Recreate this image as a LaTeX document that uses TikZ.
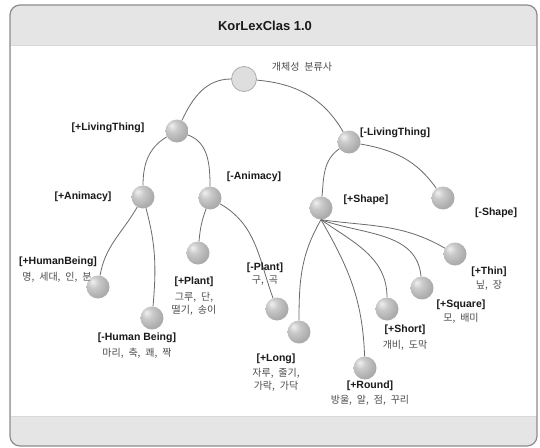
\documentclass[tikz,border=0pt]{standalone}
\usepackage{fontspec}
\setmainfont{Liberation Sans}
\newfontfamily\korfont[WordSpace=2.2]{Noto Sans CJK KR}
\usepackage{xcolor}
\usepackage{tikz}
\definecolor{bandbg}{HTML}{E5E5E5}
\definecolor{framegray}{HTML}{8C8C8C}
\definecolor{edgegray}{HTML}{6A6A6A}
\definecolor{textdark}{HTML}{1A1A1A}
\definecolor{textgray}{HTML}{4C4C4C}
\definecolor{rootfill}{HTML}{DEDEDE}
\pgfdeclareradialshading{greyball}{\pgfpoint{-12bp}{12bp}}{color(0bp)=(gray!12); color(12bp)=(gray!42); color(28bp)=(gray!64); color(45bp)=(gray!78); color(70bp)=(gray!88)}
\tikzset{
  classball/.style={circle,minimum size=23pt,inner sep=0pt,shading=greyball},
  rootball/.style={circle,minimum size=25pt,inner sep=0pt,fill=rootfill,draw=gray!65,line width=0.8pt},
  featlbl/.style={font=\bfseries\fontsize{10.5}{12}\selectfont,text=textdark,inner sep=1pt},
  wordlbl/.style={font=\korfont\fontsize{10}{13}\selectfont,text=textgray,inner sep=1pt,align=center},
  branch/.style={draw=edgegray,line width=0.8pt},
}

\begin{document}
\begin{tikzpicture}[x=1pt,y=1pt]
  \useasboundingbox (0,0) rectangle (540,-447);
  % frame with title and bottom bands
  \fill[bandbg,rounded corners=10pt] (10,-446) rectangle (537,-5);
  \fill[white] (10.5,-45) rectangle (536.5,-416);
  \draw[gray!30] (10.5,-45) -- (536.5,-45) (10.5,-416) -- (536.5,-416);
  \draw[framegray,line width=1.2pt,rounded corners=10pt] (10,-446) rectangle (537,-5);
  \node[font=\bfseries\fontsize{13}{15}\selectfont,text=textdark] (title) at (265,-26) {KorLexClas 1.0};

  % tree nodes
  \node[rootball] (root) at (244,-79) {};
  \node[classball] (livP) at (177,-131) {};
  \node[classball] (livM) at (349,-142) {};
  \node[classball] (anP) at (143,-197) {};
  \node[classball] (anM) at (210,-198) {};
  \node[classball] (shpP) at (321,-208) {};
  \node[classball] (shpM) at (443,-198) {};
  \node[classball] (hbP) at (98,-287) {};
  \node[classball] (hbM) at (152,-318) {};
  \node[classball] (plP) at (198,-253) {};
  \node[classball] (plM) at (277,-309) {};
  \node[classball] (lng) at (299,-332) {};
  \node[classball] (rnd) at (365,-368) {};
  \node[classball] (sht) at (387,-309) {};
  \node[classball] (sqr) at (422,-288) {};
  \node[classball] (thn) at (455,-254) {};

  % branches
  \draw[branch] (root) to[out=180,in=65] (livP);
  \draw[branch] (root) to[out=-5,in=120] (livM);
  \draw[branch] (livP) to[out=210,in=90] (anP);
  \draw[branch] (livP) to[out=-20,in=90] (anM);
  \draw[branch] (livM) to[out=215,in=85] (shpP);
  \draw[branch] (livM) to[out=-10,in=125] (shpM);
  \draw[branch] (anP) to[out=240,in=80] (hbP);
  \draw[branch] (anP) to[out=285,in=85] (hbM);
  \draw[branch] (anM) to[out=250,in=85] (plP);
  \draw[branch] (anM) to[out=-30,in=110] (plM);
  \draw[branch] (shpP.south) to[out=240,in=90] (lng);
  \draw[branch] (shpP.south) to[out=-60,in=92] (rnd);
  \draw[branch] (shpP.south) to[out=-35,in=90] (sht);
  \draw[branch] (shpP.south) to[out=-20,in=95] (sqr);
  \draw[branch] (shpP.south) to[out=-8,in=150] (thn);

  % labels
  \node[wordlbl] (rootT) at (302,-67) {개체성 분류사};
  \node[featlbl] (livPT) at (108,-128) {[+LivingThing]};
  \node[featlbl] (livMT) at (395,-133) {[-LivingThing]};
  \node[featlbl] (anPT) at (83,-197) {[+Animacy]};
  \node[featlbl] (anMT) at (254,-177) {[-Animacy]};
  \node[featlbl] (shpPT) at (366,-200) {[+Shape]};
  \node[featlbl] (shpMT) at (496,-213) {[-Shape]};
  \node[featlbl] (hbPT) at (58,-262) {[+HumanBeing]};
  \node[wordlbl] (hbPW) at (57,-277) {명, 세대, 인, 분};
  \node[featlbl] (hbMT) at (137,-338) {[-Human Being]};
  \node[wordlbl] (hbMW) at (137,-353) {마리, 축, 쾌, 짝};
  \node[featlbl] (plPT) at (194,-282) {[+Plant]};
  \node[wordlbl] (plPW) at (194,-303.5) {그루, 단,\\떨기, 송이};
  \node[featlbl] (plMT) at (265,-268) {[-Plant]};
  \node[wordlbl] (plMW) at (265,-281) {구, 곡};
  \node[featlbl] (lngT) at (276,-359) {[+Long]};
  \node[wordlbl] (lngW) at (276,-380) {자루, 줄기,\\가락, 가닥};
  \node[featlbl] (rndT) at (370,-386) {[+Round]};
  \node[wordlbl] (rndW) at (370,-400) {방울, 알, 점, 꾸리};
  \node[featlbl] (shtT) at (405,-330) {[+Short]};
  \node[wordlbl] (shtW) at (405,-345) {개비, 도막};
  \node[featlbl] (sqrT) at (461,-305) {[+Square]};
  \node[wordlbl] (sqrW) at (461,-318) {모, 배미};
  \node[featlbl] (thnT) at (489,-272) {[+Thin]};
  \node[wordlbl] (thnW) at (489,-285) {닢, 장};
\end{tikzpicture}
\end{document}
